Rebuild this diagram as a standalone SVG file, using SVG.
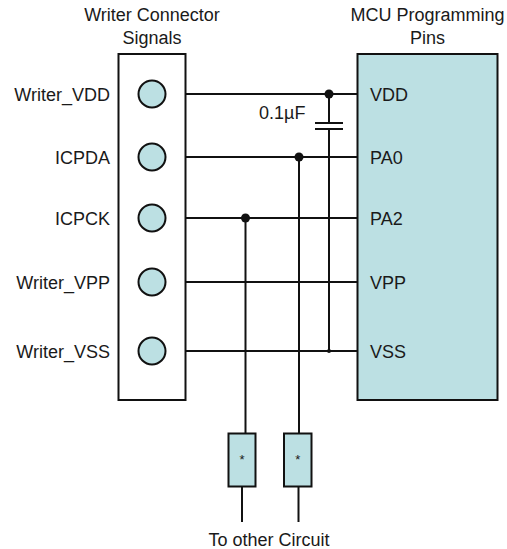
<svg xmlns="http://www.w3.org/2000/svg" width="507" height="549" viewBox="0 0 507 549">
<style>
text{font-family:"Liberation Sans",Arial,sans-serif;font-size:18px;fill:#1a1a1a}
.box{fill:#fff;stroke:#111;stroke-width:2}
.teal{fill:#BCE0E3;stroke:#111;stroke-width:2}
.w{stroke:#111;stroke-width:2;fill:none}
.dot{fill:#111}
.end{text-anchor:end}
.mid{text-anchor:middle}
</style>
<rect width="507" height="549" fill="#fff"/>
<g id="writer-connector">
<text class="mid" x="152" y="21">Writer Connector</text>
<text class="mid" x="152" y="44">Signals</text>
<rect class="box" x="118.5" y="54" width="67" height="346"/>
<circle class="teal" cx="152" cy="94" r="13.5"/>
<circle class="teal" cx="152" cy="157" r="13.5"/>
<circle class="teal" cx="152" cy="218" r="13.5"/>
<circle class="teal" cx="152" cy="282" r="13.5"/>
<circle class="teal" cx="152" cy="351" r="13.5"/>
<text class="end" x="110" y="100.5">Writer_VDD</text>
<text class="end" x="110" y="163.5">ICPDA</text>
<text class="end" x="110" y="224.5">ICPCK</text>
<text class="end" x="110" y="288.5">Writer_VPP</text>
<text class="end" x="110" y="357.5">Writer_VSS</text>
</g>
<g id="mcu">
<text class="mid" x="427.5" y="21">MCU Programming</text>
<text class="mid" x="427.5" y="44">Pins</text>
<rect class="teal" x="357.5" y="54" width="140" height="346"/>
<text x="370" y="100.5">VDD</text>
<text x="370" y="163.5">PA0</text>
<text x="370" y="224.5">PA2</text>
<text x="370" y="288.5">VPP</text>
<text x="370" y="357.5">VSS</text>
</g>
<g id="capacitor">
<line class="w" x1="315" y1="123" x2="343" y2="123"/>
<line class="w" x1="315" y1="129" x2="343" y2="129"/>
<text x="259" y="119">0.1µF</text>
</g>
<g id="resistor1">
<rect class="teal" x="228.5" y="433.5" width="27" height="53"/>
<text class="mid" x="242" y="464" style="font-size:13px">*</text>
</g>
<g id="resistor2">
<rect class="teal" x="284" y="433.5" width="27.5" height="53"/>
<text class="mid" x="297.8" y="464" style="font-size:13px">*</text>
</g>
<g id="connectors">
<line class="w" x1="185.5" y1="94" x2="357.5" y2="94"/>
<line class="w" x1="185.5" y1="157" x2="357.5" y2="157"/>
<line class="w" x1="185.5" y1="218" x2="357.5" y2="218"/>
<line class="w" x1="185.5" y1="282" x2="357.5" y2="282"/>
<line class="w" x1="185.5" y1="351" x2="357.5" y2="351"/>
<line class="w" x1="329" y1="94" x2="329" y2="123"/>
<line class="w" x1="329" y1="129" x2="329" y2="351"/>
<line class="w" x1="299" y1="157" x2="299" y2="433.5"/>
<line class="w" x1="245.5" y1="218" x2="245.5" y2="433.5"/>
<line class="w" x1="242" y1="486.5" x2="242" y2="522"/>
<line class="w" x1="298.5" y1="486.5" x2="298.5" y2="522"/>
<circle class="dot" cx="329" cy="94" r="4.5"/>
<circle class="dot" cx="299" cy="157" r="4.5"/>
<circle class="dot" cx="245.5" cy="218" r="4.5"/>
<circle class="dot" cx="329" cy="351" r="2"/>
</g>
<text class="mid" x="269" y="546">To other Circuit</text>
</svg>
